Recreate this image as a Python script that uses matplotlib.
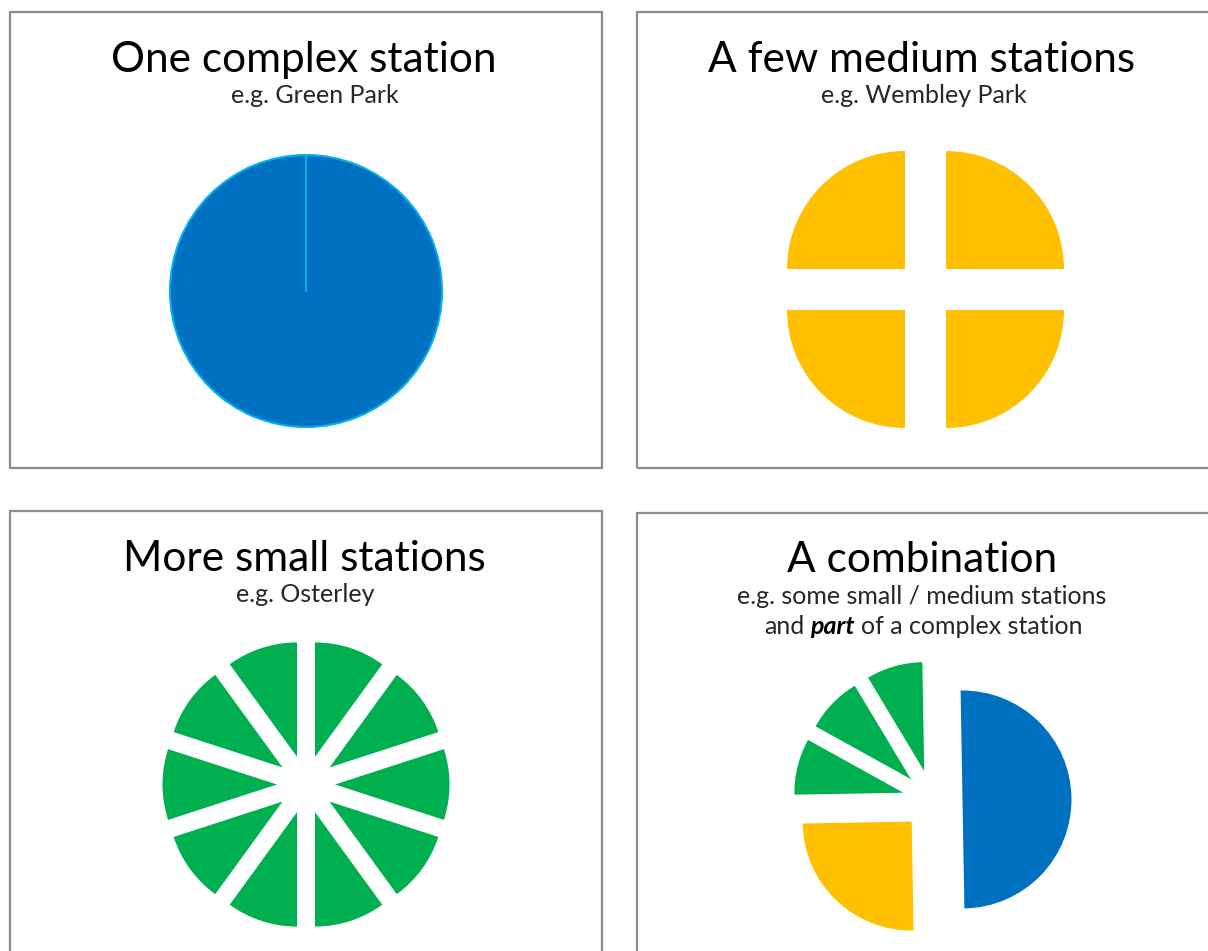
import numpy as np
import matplotlib
matplotlib.use('Agg')
import matplotlib.pyplot as plt
from matplotlib.patches import Rectangle

# share of a station's area taken by each piece
complex_share = [1]
medium_share = [1, 1, 1, 1]
small_share = [1, 1, 1, 1, 1, 1, 1, 1, 1, 1]
combo_share = [6, 3, 1, 1, 1]   # half a complex, one medium, three small

titles = ['One complex station', 'A few medium stations',
          'More small stations', 'A combination']
subtitles = ['e.g. Green Park', 'e.g. Wembley Park', 'e.g. Osterley',
             'e.g. some small / medium stations']

BLUE = '#0070C0'
LIGHT_BLUE = '#00B0F0'
YELLOW = '#FFC000'
GREEN = '#00B050'
BORDER = '#8C8C8C'
SUB = '#262626'

W, H = 1208, 951
plt.rcParams['font.family'] = ['Lato', 'DejaVu Sans']

fig = plt.figure(figsize=(W / 100, H / 100), dpi=100)
ax = fig.add_axes([0, 0, 1, 1])

def up(y):
    # pixel rows are counted from the top
    return H - y

# panel frames (right and bottom ones run off the page)
for x0, y0 in [(10, 12), (637, 12), (10, 511), (637, 513)]:
    ax.add_patch(Rectangle((x0, up(y0 + 456)), 592, 456, fill=False,
                           edgecolor=BORDER, linewidth=1.6))

wedges, _ = ax.pie(complex_share, colors=[BLUE], radius=136, center=(306, up(291)),
                   startangle=90, wedgeprops=dict(edgecolor=LIGHT_BLUE, linewidth=1.5))
# a full circle has no seam, so draw the slice edge from the centre
w = wedges[0]
t = np.deg2rad(w.theta1)
ax.plot([w.center[0], w.center[0] + w.r * np.cos(t)],
        [w.center[1], w.center[1] + w.r * np.sin(t)],
        color=LIGHT_BLUE, linewidth=1.5, zorder=3)

ax.pie(medium_share, colors=[YELLOW] * 4, radius=118, center=(925.5, up(289.5)),
       startangle=90, explode=[29] * 4, wedgeprops=dict(linewidth=0))

ax.pie(small_share, colors=[GREEN] * 10, radius=114.5, center=(306, up(784.5)),
       startangle=90, explode=[29] * 10, wedgeprops=dict(linewidth=0))

ax.pie(combo_share, colors=[BLUE, YELLOW, GREEN, GREEN, GREEN], radius=109,
       center=(932.5, up(800)), startangle=91, counterclock=False,
       explode=[30] * 5, wedgeprops=dict(linewidth=0))

# headings
title_pos = [(304, 72), (922, 72), (304, 571), (922, 572)]
sub_pos = [(315, 103), (924, 103), (305, 602), (922, 604)]
for s, (x, y) in zip(titles, title_pos):
    ax.text(x, up(y), s, ha='center', va='baseline', fontsize=30.5, color='black')
for s, (x, y) in zip(subtitles, sub_pos):
    ax.text(x, up(y), s, ha='center', va='baseline', fontsize=18, color=SUB)

# second subtitle line with "part" emphasised
r = fig.canvas.get_renderer()
pieces = [('and', 'normal', 'normal'), ('part', 'bold', 'italic'),
          ('of a complex station', 'normal', 'normal')]
gap = 6
arts = []
for s, wt, st in pieces:
    arts.append(ax.text(0, up(634), s, ha='left', va='baseline', fontsize=18,
                        color=SUB if wt != 'bold' else 'black',
                        fontweight=wt, fontstyle=st))
widths = [a.get_window_extent(r).width for a in arts]
x = 923 - (sum(widths) + gap * (len(arts) - 1)) / 2
for a, wd in zip(arts, widths):
    a.set_x(x)
    x += wd + gap

ax.set_xlim(0, W)
ax.set_ylim(0, H)
ax.set_aspect('auto')
ax.axis('off')
fig.savefig('out.png', dpi=100)
